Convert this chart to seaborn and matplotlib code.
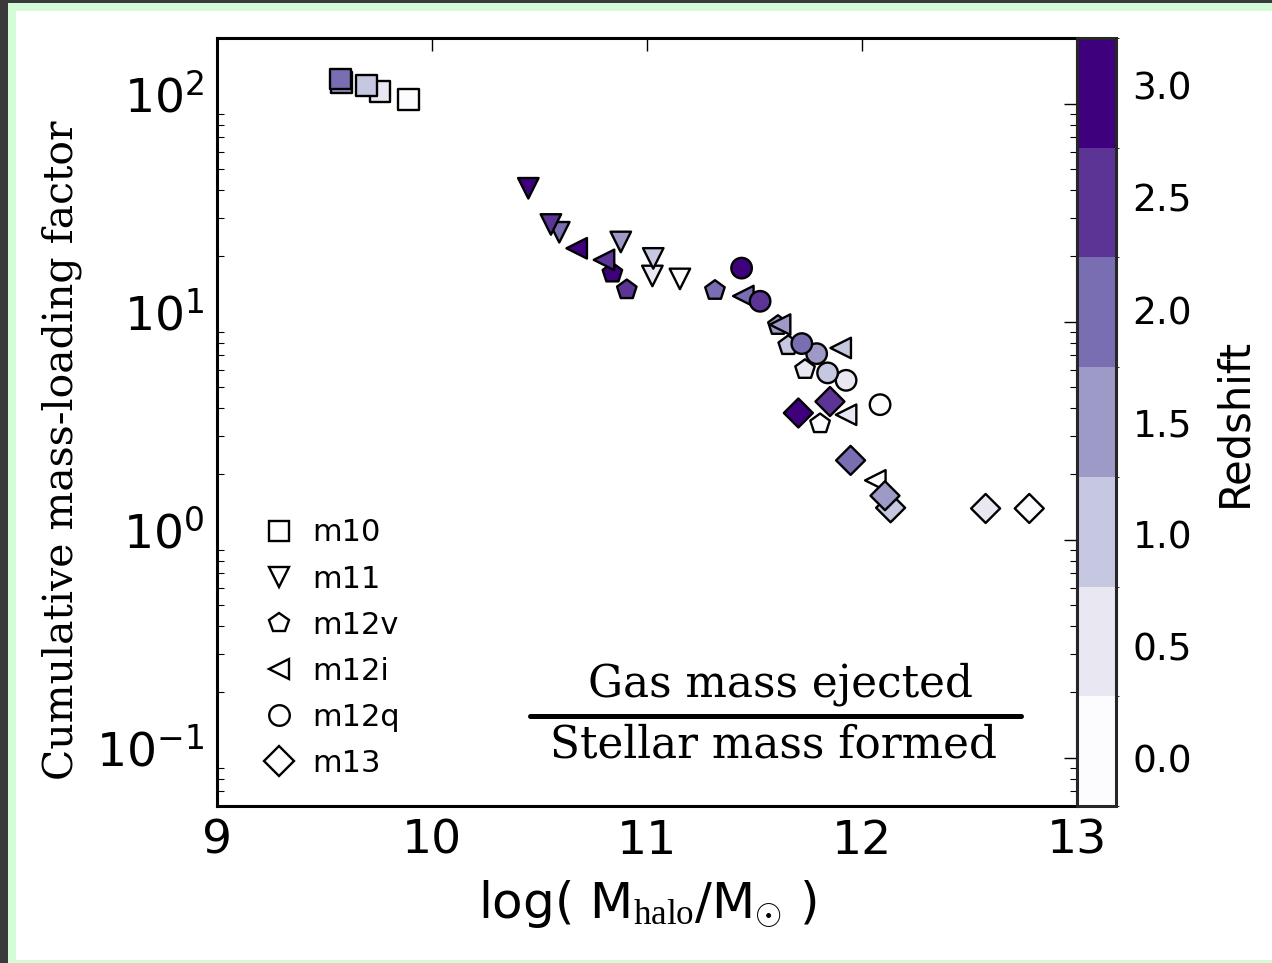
import numpy as np
import pandas as pd
import seaborn as sns
import matplotlib.pyplot as plt
from matplotlib.colors import ListedColormap, BoundaryNorm
from matplotlib.cm import ScalarMappable
from matplotlib.lines import Line2D
from matplotlib.patches import Rectangle
from matplotlib.ticker import NullLocator, FixedLocator, FuncFormatter
from matplotlib.transforms import ScaledTranslation

# --- data: log halo mass, cumulative mass loading, redshift ---
redshifts = [0.0, 0.5, 1.0, 1.5, 2.0, 2.5, 3.0]
sims = ['m10', 'm11', 'm12v', 'm12i', 'm12q', 'm13']
sim_markers = ['s', 'v', 'p', '<', 'o', 'D']

m10_z = [0.0, 0.5, 1.0, 1.5, 2.0]
m10_logm = [9.890, 9.758, 9.696, 9.579, 9.575]
m10_eta = [104.3, 113.8, 120.9, 124.8, 129.8]

m11_z = [0.0, 0.5, 1.0, 1.5, 2.0, 2.5, 3.0]
m11_logm = [11.153, 11.025, 11.029, 10.878, 10.592, 10.553, 10.448]
m11_eta = [15.7, 16.2, 19.5, 23.2, 25.7, 27.9, 40.9]

m12v_z = [0.0, 0.5, 1.0, 1.5, 2.0, 2.5, 3.0]
m12v_logm = [11.805, 11.735, 11.657, 11.609, 11.316, 10.906, 10.839]
m12v_eta = [3.40, 6.03, 7.76, 9.6, 13.9, 14.0, 16.7]

m12i_z = [0.0, 0.5, 1.0, 1.5, 2.0, 2.5, 3.0]
m12i_logm = [12.062, 11.926, 11.901, 11.619, 11.448, 10.800, 10.673]
m12i_eta = [1.87, 3.74, 7.57, 9.69, 13.1, 19.2, 21.7]

m12q_z = [0.0, 0.5, 1.0, 1.5, 2.0, 2.5, 3.0]
m12q_logm = [12.084, 11.926, 11.840, 11.789, 11.720, 11.526, 11.440]
m12q_eta = [4.16, 5.38, 5.82, 7.13, 7.93, 12.4, 17.6]

m13_z = [0.0, 0.5, 1.0, 1.5, 2.0, 2.5, 3.0]
m13_logm = [12.778, 12.575, 12.133, 12.107, 11.947, 11.851, 11.704]
m13_eta = [1.39, 1.39, 1.40, 1.59, 2.31, 4.30, 3.81]

frames = []
for name, z, lm, eta in [
    ('m10', m10_z, m10_logm, m10_eta),
    ('m11', m11_z, m11_logm, m11_eta),
    ('m12v', m12v_z, m12v_logm, m12v_eta),
    ('m12i', m12i_z, m12i_logm, m12i_eta),
    ('m12q', m12q_z, m12q_logm, m12q_eta),
    ('m13', m13_z, m13_logm, m13_eta),
]:
    frames.append(pd.DataFrame({'sim': name, 'z': z, 'logm': lm, 'eta': eta}))
df = pd.concat(frames, ignore_index=True)

sns.set_style('white')
plt.rcParams['font.family'] = 'DejaVu Sans'
plt.rcParams['text.color'] = 'black'
plt.rcParams['axes.labelcolor'] = 'black'
plt.rcParams['xtick.color'] = 'black'
plt.rcParams['ytick.color'] = 'black'
plt.rcParams['mathtext.fontset'] = 'custom'
plt.rcParams['mathtext.rm'] = 'Liberation Serif'
plt.rcParams['mathtext.it'] = 'Liberation Serif:italic'
plt.rcParams['mathtext.sf'] = 'DejaVu Sans'

# discrete Purples, one band per redshift
cmap = ListedColormap(plt.get_cmap('Purples')(np.linspace(0, 1, len(redshifts))))
half = 3.0 / 14
norm = BoundaryNorm(np.linspace(-half, 3.0 + half, len(redshifts) + 1), cmap.N)
palette = dict(zip(redshifts, cmap.colors))
markers = dict(zip(sims, sim_markers))

fig = plt.figure(figsize=(12.72, 9.63), dpi=100)
fig.patch.set_facecolor('#3a3a3a')
fig.add_artist(Rectangle((8 / 1272, 0), 1, 960 / 963, transform=fig.transFigure,
                         facecolor='#d4fcd6', edgecolor='none', zorder=-10))
fig.add_artist(Rectangle((16 / 1272, 3 / 963), 1, 949 / 963, transform=fig.transFigure,
                         facecolor='white', edgecolor='none', zorder=-9))

ax = fig.add_axes([217 / 1272, 157 / 963, 860 / 1272, 768 / 963])
cax = fig.add_axes([1077 / 1272, 157 / 963, 39 / 1272, 768 / 963])

sns.scatterplot(data=df, x='logm', y='eta', hue='z', style='sim',
                palette=palette, markers=markers, style_order=sims,
                s=218, edgecolor='black', linewidth=1.7, legend=False,
                ax=ax, zorder=3)

ax.set_yscale('log')
ax.set_xlim(9, 13)
ax.set_ylim(0.06, 200)
ax.xaxis.set_major_locator(FixedLocator([9, 10, 11, 12, 13]))
ax.xaxis.set_minor_locator(NullLocator())
ax.yaxis.set_major_formatter(
    FuncFormatter(lambda v, pos: r'$\mathsf{10^{%d}}$' % round(np.log10(v))))
ax.tick_params(which='major', direction='in', length=9.5, width=1.0,
               labelsize=34, pad=9, top=True, right=True)
ax.tick_params(which='minor', direction='in', length=5, width=0.8,
               top=False, right=True, left=True)
for sp in ax.spines.values():
    sp.set_linewidth(2.2)
    sp.set_color('black')

ax.set_xlabel(r'log( M$_{\rm halo}$/M$_{\odot}$ )', fontsize=36, labelpad=11)
ax.set_ylabel('Cumulative mass-loading factor', family='DejaVu Serif',
              fontsize=29.5)
ax.yaxis.set_label_coords(-0.157, 0.4635)

# legend: open symbols
handles = [Line2D([], [], marker=m, ls='none', mfc='white', mec='black',
                  mew=1.7, ms=14.8) for m in sim_markers]
ax.legend(handles, sims, loc='lower left', bbox_to_anchor=(0.054, 0.0365),
          frameon=False, fontsize=22, handlelength=1.0, handletextpad=0.6,
          labelspacing=0.56, borderpad=0, borderaxespad=0)

# fraction annotation
ax.text(0.655, 0.158, 'Gas mass ejected', transform=ax.transAxes,
        ha='center', va='center', family='DejaVu Serif', fontsize=31.5)
ax.add_line(Line2D([0.364, 0.935], [0.117, 0.117], transform=ax.transAxes,
                   color='black', lw=3.6))
ax.text(0.647, 0.079, 'Stellar mass formed', transform=ax.transAxes,
        ha='center', va='center', family='DejaVu Serif', fontsize=31.5)

cb = fig.colorbar(ScalarMappable(norm=norm, cmap=cmap), cax=cax, ticks=redshifts)
cb.ax.yaxis.set_major_formatter('{x:.1f}')
cb.ax.tick_params(direction='in', length=9.5, width=1.0, labelsize=27, pad=12,
                  colors='black')
cb.outline.set_linewidth(2.2)
cb.set_label('Redshift', fontsize=30, labelpad=15)

# centre the "10" of each y tick label on its tick, as in the original
fig.canvas.draw()
lift = ScaledTranslation(0, 7 / 72, fig.dpi_scale_trans)
for lab in ax.get_yticklabels():
    lab.set_transform(lab.get_transform() + lift)

fig.savefig('out.png', dpi=100, facecolor=fig.get_facecolor())
